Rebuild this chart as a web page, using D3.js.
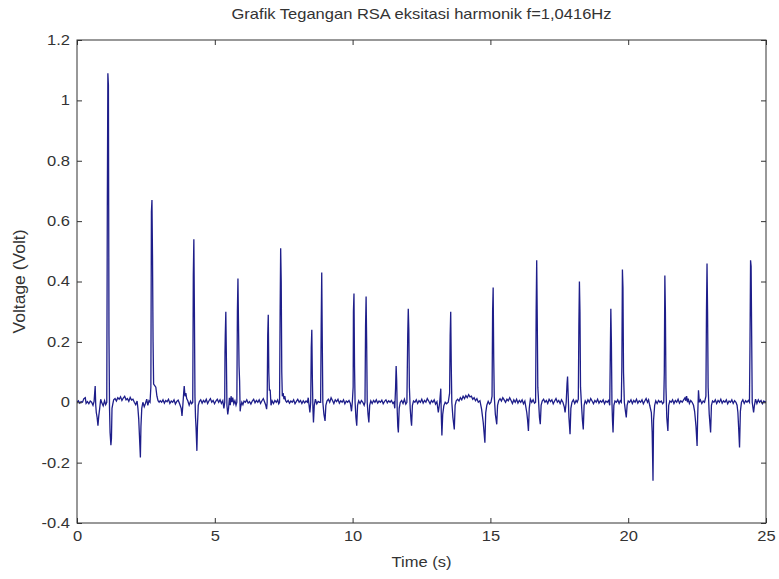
<!DOCTYPE html>
<meta charset="utf-8">
<script src="https://cdn.jsdelivr.net/npm/d3@7"></script>
<style>
  body{margin: 0; background: #fff;}
  text{font-family: "Liberation Sans", Arial, sans-serif; fill: #333;}
</style>
<div id="vis"></div>
<script>

const title = "Grafik Tegangan RSA eksitasi harmonik f=1,0416Hz"
const xLabel = "Time (s)"
const yLabel = "Voltage (Volt)"

const xTicks = [0, 5, 10, 15, 20, 25]
const yTicks = [-0.4, -0.2, 0, 0.2, 0.4, 0.6, 0.8, 1, 1.2]

// [time (s), voltage (V)]
const signal = [
  [0,0.0],[0.05,0.005],[0.1,-0.003],[0.15,0.002],[0.2,0.0],[0.25,0.012],[0.3,0.015],[0.33,-0.004],[0.38,0.002],[0.43,-0.005],
  [0.48,0.004],[0.53,0.0],[0.58,-0.01],[0.62,0.003],[0.66,0.054],[0.68,-0.01],[0.70,-0.034],[0.73,-0.05],[0.76,-0.078],[0.79,-0.045],
  [0.82,-0.023],[0.86,0.01],[0.9,-0.002],[0.95,-0.012],[1.0,0.005],[1.04,-0.008],
  [1.08,0.0],[1.10,0.64],[1.12,1.09],[1.14,1.05],[1.15,0.64],[1.16,0.22],[1.18,-0.02],[1.20,-0.10],[1.23,-0.142],[1.25,-0.12],[1.27,-0.02],[1.30,-0.005],
  [1.33,0.008],[1.38,0.012],[1.43,0.004],[1.48,0.015],[1.53,0.01],[1.58,0.018],[1.63,0.006],[1.68,0.014],[1.73,0.02],[1.78,0.008],
  [1.83,0.012],[1.88,0.003],[1.93,0.016],[1.98,0.007],[2.03,0.01],[2.08,0.0],[2.13,-0.008],[2.18,0.004],
  [2.21,-0.02],[2.24,-0.056],[2.27,-0.12],[2.30,-0.183],[2.32,-0.08],[2.35,-0.02],[2.39,0.0],[2.44,-0.015],[2.48,-0.005],[2.53,0.01],[2.57,-0.01],[2.61,0.005],
  [2.65,0.0],[2.68,0.05],[2.70,0.63],[2.72,0.67],[2.74,0.48],[2.76,0.20],[2.78,0.06],[2.82,0.055],[2.86,0.05],[2.90,0.02],[2.94,0.005],[2.98,0.0],
  [3.02,0.005],[3.07,0.0],[3.12,0.008],[3.17,-0.003],[3.22,0.006],[3.27,0.002],[3.32,0.01],[3.37,-0.004],[3.42,0.004],[3.47,0.0],
  [3.52,0.008],[3.57,-0.006],[3.62,0.003],[3.67,0.007],[3.72,-0.004],
  [3.78,-0.02],[3.81,-0.045],[3.84,-0.01],[3.87,0.03],[3.89,0.054],[3.92,0.02],[3.95,0.03],[3.98,0.012],[4.02,0.005],[4.07,-0.01],[4.12,0.003],[4.16,-0.005],
  [4.20,0.0],[4.22,0.42],[4.24,0.54],[4.26,0.30],[4.28,0.02],[4.30,-0.05],[4.32,-0.084],[4.35,-0.161],[4.37,-0.08],[4.40,-0.01],[4.44,0.002],
  [4.49,0.008],[4.54,-0.003],[4.59,0.006],[4.64,0.0],[4.69,0.01],[4.74,-0.004],[4.79,0.005],[4.84,0.012],[4.89,0.0],[4.94,0.006],
  [4.99,-0.005],[5.04,0.004],[5.09,0.01],[5.14,0.0],[5.19,0.008],[5.24,-0.004],[5.29,0.005],
  [5.33,-0.02],[5.36,0.0],[5.37,0.165],[5.38,0.22],[5.40,0.30],[5.42,0.15],[5.43,0.07],[5.44,-0.01],[5.47,-0.04],[5.50,-0.02],[5.53,0.015],[5.56,-0.01],
  [5.59,0.02],[5.62,0.0],[5.65,0.015],[5.69,-0.005],[5.73,0.005],[5.77,-0.01],
  [5.80,0.0],[5.82,0.30],[5.84,0.41],[5.86,0.26],[5.88,0.12],[5.90,0.07],[5.92,-0.03],[5.94,-0.015],[5.98,0.0],[6.02,-0.008],
  [6.06,0.004],[6.11,0.0],[6.16,0.008],[6.21,-0.003],[6.26,0.002],[6.31,-0.006],[6.36,0.004],[6.41,0.01],[6.46,-0.002],[6.51,0.006],
  [6.56,0.0],[6.61,0.008],[6.66,-0.004],[6.71,0.005],[6.76,0.012],[6.81,0.0],
  [6.85,-0.01],[6.88,-0.023],[6.90,0.0],[6.92,0.22],[6.94,0.29],[6.96,0.10],[6.98,0.04],[7.01,0.04],[7.04,-0.01],[7.08,0.005],
  [7.13,-0.004],[7.18,0.006],[7.23,0.0],[7.28,0.008],[7.32,-0.005],
  [7.35,0.0],[7.37,0.30],[7.39,0.51],[7.41,0.40],[7.43,0.10],[7.45,0.02],[7.48,0.03],[7.51,0.01],[7.54,0.02],[7.57,0.005],[7.61,0.0],
  [7.66,0.006],[7.71,-0.003],[7.76,0.004],[7.81,0.0],[7.86,0.008],[7.91,-0.005],[7.96,0.003],[8.01,0.01],[8.06,0.0],[8.11,0.006],
  [8.16,-0.004],[8.21,0.005],[8.26,-0.002],[8.31,0.004],[8.36,0.0],
  [8.39,0.015],[8.45,-0.034],[8.48,0.0],[8.50,0.18],[8.52,0.24],[8.54,0.08],[8.56,-0.02],[8.58,-0.067],[8.61,-0.01],[8.65,0.01],
  [8.70,-0.005],[8.75,0.003],[8.80,0.0],
  [8.84,0.0],[8.86,0.25],[8.88,0.43],[8.90,0.20],[8.92,0.0],[8.96,-0.04],[9.00,-0.062],[9.03,-0.01],[9.07,0.004],
  [9.12,0.01],[9.17,0.0],[9.22,0.015],[9.27,0.006],[9.32,-0.004],[9.37,0.008],[9.42,0.002],[9.47,0.01],[9.52,-0.003],[9.57,0.005],
  [9.62,0.0],[9.67,0.008],[9.72,-0.005],[9.77,0.004],[9.82,0.0],[9.87,0.006],[9.92,-0.004],
  [9.96,-0.03],[9.99,0.0],[10.02,0.05],[10.03,0.30],[10.05,0.36],[10.07,0.12],[10.09,0.0],[10.12,-0.05],[10.15,-0.078],[10.18,-0.01],
  [10.22,0.005],[10.27,-0.004],[10.32,0.006],[10.37,0.0],[10.42,-0.01],
  [10.45,0.0],[10.47,0.25],[10.49,0.35],[10.51,0.20],[10.53,0.0],[10.56,-0.04],[10.59,-0.067],[10.62,-0.01],[10.66,0.005],
  [10.71,-0.004],[10.76,0.006],[10.81,0.0],[10.86,0.008],[10.91,-0.003],[10.96,0.004],[11.01,0.0],[11.06,0.007],[11.11,-0.005],[11.16,0.003],
  [11.21,0.008],[11.26,-0.002],[11.31,0.005],[11.36,0.0],[11.41,0.006],[11.46,-0.004],[11.50,0.0],
  [11.53,-0.02],[11.56,0.05],[11.58,0.12],[11.60,0.07],[11.62,-0.03],[11.64,-0.08],[11.66,-0.10],[11.69,-0.02],[11.73,0.0],[11.78,0.006],
  [11.83,-0.004],[11.88,0.01],[11.93,-0.006],
  [11.97,0.0],[12.00,0.22],[12.02,0.31],[12.04,0.24],[12.06,0.05],[12.09,-0.02],[12.12,-0.06],[12.14,-0.078],[12.17,-0.01],[12.21,0.004],
  [12.26,0.0],[12.31,0.008],[12.36,-0.004],[12.41,0.005],[12.46,0.0],[12.51,0.01],[12.56,-0.003],[12.61,0.006],[12.66,0.0],[12.71,0.012],
  [12.76,0.004],[12.81,-0.005],[12.86,0.006],[12.91,0.0],[12.96,0.008],[13.01,-0.006],[13.06,0.002],
  [13.11,-0.034],[13.16,0.0],[13.20,0.045],[13.22,-0.05],[13.24,-0.11],[13.27,-0.04],[13.31,-0.012],[13.36,0.0],[13.41,-0.005],
  [13.47,0.0],[13.52,0.03],[13.54,0.22],[13.56,0.30],[13.58,0.12],[13.60,0.0],[13.64,-0.05],[13.69,-0.09],[13.72,-0.01],[13.76,0.005],
  [13.81,0.01],[13.86,0.004],[13.91,0.015],[13.96,0.008],[14.01,0.02],[14.06,0.012],[14.11,0.022],[14.16,0.015],[14.21,0.025],[14.26,0.018],
  [14.31,0.02],[14.36,0.01],[14.41,0.015],[14.46,0.005],[14.51,0.012],[14.56,0.0],[14.62,0.005],
  [14.68,-0.023],[14.74,-0.067],[14.77,-0.10],[14.80,-0.134],[14.83,-0.035],[14.87,-0.01],[14.92,0.003],[14.97,-0.006],[15.02,0.0],
  [15.06,0.02],[15.08,0.30],[15.10,0.38],[15.12,0.15],[15.14,0.02],[15.18,-0.04],[15.23,-0.073],[15.26,-0.01],[15.30,0.005],
  [15.35,0.012],[15.40,0.004],[15.45,0.015],[15.50,0.008],[15.55,0.0],[15.60,0.01],[15.65,0.005],[15.70,0.015],[15.75,0.006],[15.80,-0.004],
  [15.85,0.008],[15.90,0.0],[15.95,0.01],[16.00,-0.003],[16.05,0.006],[16.10,0.0],[16.15,0.008],[16.20,-0.005],[16.25,0.004],
  [16.32,-0.034],[16.35,-0.06],[16.38,-0.095],[16.41,-0.02],[16.45,0.01],[16.50,0.0],[16.55,0.008],[16.60,-0.003],
  [16.64,0.0],[16.66,0.30],[16.68,0.47],[16.70,0.28],[16.72,0.05],[16.75,0.0],[16.78,-0.05],[16.81,-0.073],[16.84,-0.01],[16.88,0.004],
  [16.93,0.01],[16.98,0.0],[17.03,0.006],[17.08,-0.004],[17.13,0.01],[17.18,0.002],[17.23,0.008],[17.28,-0.005],[17.33,0.004],[17.38,0.012],
  [17.43,0.0],[17.48,0.006],[17.53,-0.004],[17.58,0.008],[17.63,0.0],
  [17.68,-0.015],[17.71,-0.034],[17.75,0.0],[17.78,0.06],[17.80,0.085],[17.82,0.03],[17.85,-0.05],[17.89,-0.106],[17.92,-0.02],[17.96,0.0],
  [18.01,0.008],[18.06,-0.004],[18.11,0.006],[18.15,0.0],
  [18.19,0.01],[18.21,0.25],[18.23,0.40],[18.25,0.30],[18.27,0.05],[18.30,0.0],[18.34,-0.06],[18.37,-0.09],[18.40,-0.01],[18.44,0.005],
  [18.49,-0.004],[18.54,0.008],[18.59,0.0],[18.64,0.012],[18.69,0.004],[18.74,-0.005],[18.79,0.006],[18.84,0.0],[18.89,0.01],[18.94,-0.003],
  [18.99,0.005],[19.04,0.0],[19.09,0.008],[19.14,-0.005],[19.19,0.004],[19.24,0.0],[19.29,0.006],
  [19.33,-0.01],[19.35,0.15],[19.37,0.31],[19.39,0.20],[19.41,0.0],[19.43,-0.06],[19.45,-0.10],[19.48,-0.01],[19.52,0.004],[19.57,0.0],
  [19.62,0.008],[19.67,-0.004],[19.71,0.005],
  [19.75,0.0],[19.77,0.12],[19.79,0.44],[19.81,0.38],[19.83,0.10],[19.86,0.0],[19.90,-0.03],[19.93,-0.05],[19.96,-0.01],[20.00,0.004],
  [20.05,0.0],[20.10,0.008],[20.15,-0.004],[20.20,0.006],[20.25,0.0],[20.30,0.01],[20.35,-0.003],[20.40,0.005],[20.45,0.0],[20.50,0.008],
  [20.55,-0.005],[20.60,0.004],[20.65,0.012],[20.70,0.0],[20.74,0.008],
  [20.78,-0.01],[20.84,-0.034],[20.87,-0.10],[20.90,-0.26],[20.92,-0.06],[20.96,-0.01],[21.0,0.005],[21.05,-0.004],[21.10,0.006],[21.15,0.0],
  [21.20,0.004],[21.25,-0.005],
  [21.29,0.0],[21.31,0.10],[21.33,0.42],[21.35,0.30],[21.37,0.05],[21.40,-0.05],[21.44,-0.095],[21.47,-0.01],[21.51,0.004],
  [21.56,0.0],[21.61,0.008],[21.66,-0.004],[21.71,0.006],[21.76,0.0],[21.81,0.01],[21.86,-0.003],[21.91,0.005],[21.96,0.0],[22.01,0.008],
  [22.06,0.015],[22.09,0.005],[22.12,0.02],[22.15,0.0],[22.18,0.012],[22.22,-0.004],[22.27,0.006],[22.32,0.0],[22.37,-0.01],
  [22.41,-0.03],[22.46,-0.08],[22.50,-0.145],[22.52,-0.05],[22.55,0.04],[22.58,0.0],[22.62,0.008],[22.67,-0.004],[22.72,0.004],
  [22.77,0.0],[22.82,0.02],[22.84,0.30],[22.86,0.46],[22.88,0.30],[22.90,0.05],[22.94,-0.04],[22.99,-0.10],[23.02,-0.01],[23.06,0.004],
  [23.11,0.0],[23.16,0.008],[23.21,-0.004],[23.26,0.006],[23.31,0.0],[23.36,0.01],[23.41,-0.003],[23.46,0.005],[23.51,0.0],[23.56,0.008],
  [23.61,-0.005],[23.66,0.004],[23.71,0.0],[23.76,0.008],[23.81,-0.004],[23.86,0.005],[23.91,0.0],
  [23.95,-0.01],[23.98,-0.034],[24.01,-0.09],[24.04,-0.15],[24.07,-0.03],[24.11,0.0],[24.16,0.008],[24.21,-0.004],[24.26,0.005],[24.31,0.0],
  [24.36,0.006],
  [24.40,0.0],[24.42,0.20],[24.44,0.47],[24.46,0.45],[24.48,0.22],[24.50,0.0],[24.55,-0.034],[24.58,-0.01],[24.62,0.01],[24.67,-0.004],
  [24.72,0.008],[24.77,0.0],[24.82,0.006],[24.87,-0.005],[24.92,0.004],[24.97,0.0],[25.0,0.003]
]

const margin = {top: 40, right: 13, bottom: 56, left: 77}
const width = 779 - margin.left - margin.right
const height = 579 - margin.top - margin.bottom
const stretch = 1.18   // the picture is a bit wider than tall

const x = d3.scaleLinear()
  .domain([0, 25])
  .range([0, width])

const y = d3.scaleLinear()
  .domain([-0.4, 1.2])
  .range([height, 0])

const svg = d3.select("#vis").append("svg")
  .attr("width", 779)
  .attr("height", 579)

const g = svg.append("g")
  .attr("transform", `translate(${margin.left},${margin.top})`)

svg.append("defs").append("clipPath").attr("id", "plot")
  .append("rect").attr("width", width).attr("height", height)

const line = d3.line()
  .x(d => x(d[0]))
  .y(d => y(d[1]))

g.append("path")
  .datum(signal)
  .attr("clip-path", "url(#plot)")
  .attr("fill", "none")
  .attr("stroke", "#1e1e8a")
  .attr("stroke-width", 1.3)
  .attr("d", line)

// axes, ticks pointing inwards like matlab
function style(sel) {
  sel.select(".domain").remove()
  sel.selectAll("line").attr("stroke", "#333")
  sel.selectAll("text").attr("font-size", 14).attr("fill", "#333")
    .attr("font-family", "Liberation Sans, Arial, sans-serif")
}

// plain hyphen for negatives, as matlab prints them
const fmt = d => String(+d.toFixed(1))

g.append("g")
  .attr("transform", `translate(0,${height})`)
  .call(d3.axisBottom(x).tickValues(xTicks).tickSize(-5).tickPadding(8).tickFormat(fmt))
  .call(style)
  .selectAll("text").attr("transform", `scale(${stretch},1)`)

g.append("g")
  .call(d3.axisTop(x).tickValues(xTicks).tickSize(-5).tickFormat(""))
  .call(style)

g.append("g")
  .call(d3.axisLeft(y).tickValues(yTicks).tickSize(-5).tickPadding(6).tickFormat(fmt))
  .call(style)
  .selectAll("text").attr("transform", `scale(${stretch},1)`)

g.append("g")
  .attr("transform", `translate(${width},0)`)
  .call(d3.axisRight(y).tickValues(yTicks).tickSize(-5).tickFormat(""))
  .call(style)

g.append("rect")
  .attr("width", width)
  .attr("height", height)
  .attr("fill", "none")
  .attr("stroke", "#333")
  .attr("stroke-width", 1)

g.append("text")
  .attr("transform", `translate(${width / 2},-21) scale(${stretch},1)`)
  .attr("text-anchor", "middle")
  .attr("font-size", 14)
  .text(title)

g.append("text")
  .attr("transform", `translate(${width / 2},${height + 44}) scale(${stretch},1)`)
  .attr("text-anchor", "middle")
  .attr("font-size", 14)
  .text(xLabel)

g.append("text")
  .attr("transform", `translate(${-52},${height / 2}) rotate(-90) scale(1.25,${stretch})`)
  .attr("text-anchor", "middle")
  .attr("font-size", 14)
  .text(yLabel)

</script>
